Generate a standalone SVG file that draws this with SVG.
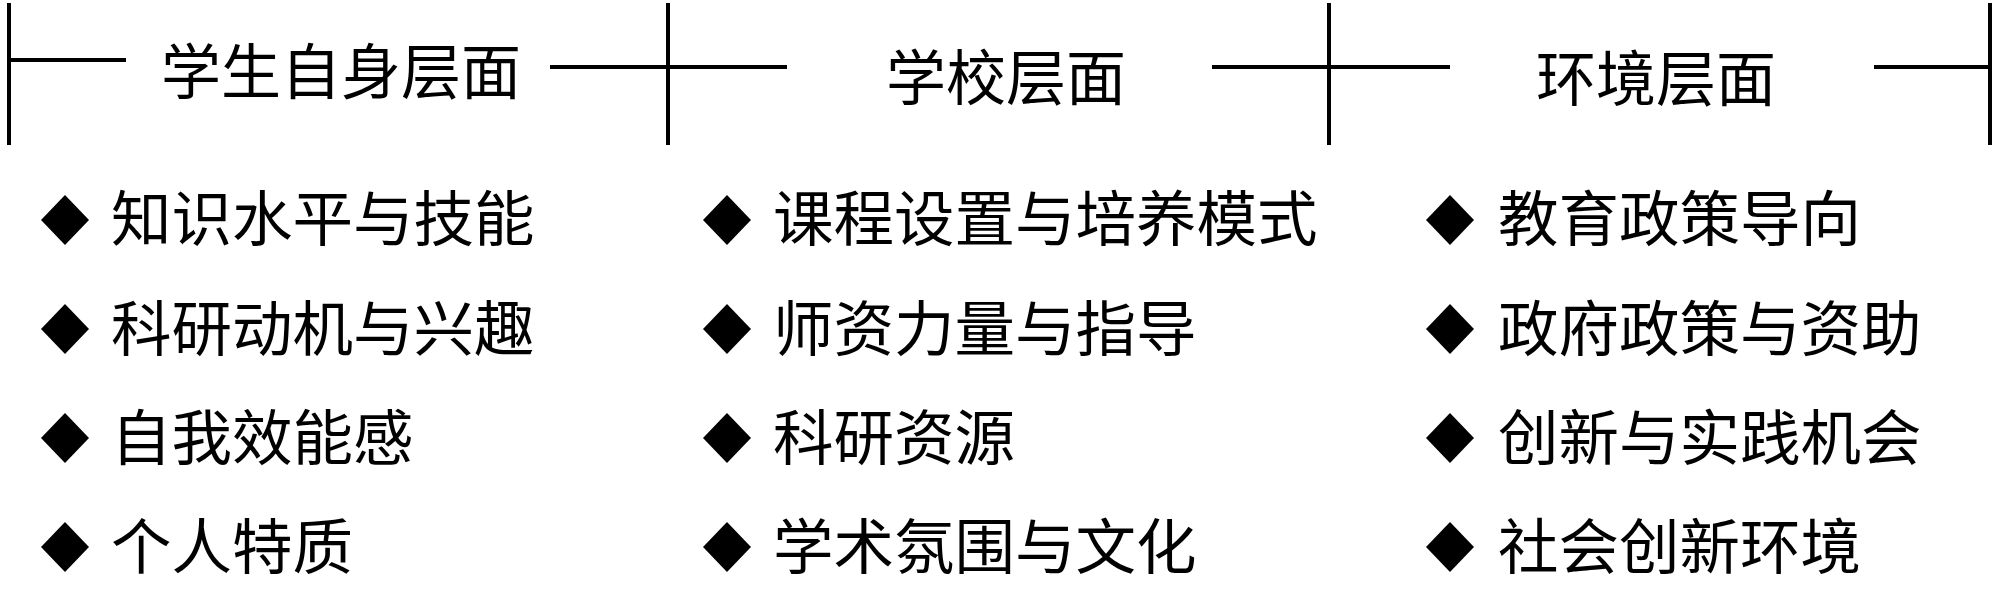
<svg xmlns="http://www.w3.org/2000/svg" width="2000" height="590" viewBox="0 0 2000 590">
<style>
.ln{stroke:#000;stroke-width:4;fill:none}
.t{font-family:"Liberation Serif","Noto Sans CJK SC",serif;font-size:60.5px;fill:#000}
.h{font-family:"Liberation Serif","Noto Sans CJK SC",serif;font-size:60px;fill:#000}
</style>
<defs>
<polygon id="d" points="0,-25 24,0 0,25 -24,0" fill="#000"/>
</defs>
<rect width="2000" height="590" fill="#fff"/>
<g id="connectors">
<line class="ln" x1="9" y1="3" x2="9" y2="145"/>
<line class="ln" x1="668" y1="3" x2="668" y2="145"/>
<line class="ln" x1="1329" y1="3" x2="1329" y2="145"/>
<line class="ln" x1="1990" y1="3" x2="1990" y2="145"/>
<line class="ln" x1="9" y1="60" x2="126" y2="60"/>
<line class="ln" x1="550" y1="67" x2="787" y2="67"/>
<line class="ln" x1="1212" y1="67" x2="1450" y2="67"/>
<line class="ln" x1="1874" y1="67" x2="1990" y2="67"/>
</g>
<g id="col1">
<text class="h" x="161" y="94">学生自身层面</text>
<use href="#d" x="65" y="220"/><text class="t" x="111" y="241">知识水平与技能</text>
<use href="#d" x="65" y="329"/><text class="t" x="111" y="351">科研动机与兴趣</text>
<use href="#d" x="65" y="438"/><text class="t" x="111" y="460">自我效能感</text>
<use href="#d" x="65" y="547"/><text class="t" x="111" y="569">个人特质</text>
</g>
<g id="col2">
<text class="h" x="886" y="100">学校层面</text>
<use href="#d" x="727" y="220"/><text class="t" x="773" y="241">课程设置与培养模式</text>
<use href="#d" x="727" y="329"/><text class="t" x="773" y="351">师资力量与指导</text>
<use href="#d" x="727" y="438"/><text class="t" x="773" y="460">科研资源</text>
<use href="#d" x="727" y="547"/><text class="t" x="773" y="569">学术氛围与文化</text>
</g>
<g id="col3">
<text class="h" x="1536" y="101">环境层面</text>
<use href="#d" x="1450" y="220"/><text class="t" x="1498" y="241">教育政策导向</text>
<use href="#d" x="1450" y="329"/><text class="t" x="1498" y="351">政府政策与资助</text>
<use href="#d" x="1450" y="438"/><text class="t" x="1498" y="460">创新与实践机会</text>
<use href="#d" x="1450" y="547"/><text class="t" x="1498" y="569">社会创新环境</text>
</g>
</svg>
